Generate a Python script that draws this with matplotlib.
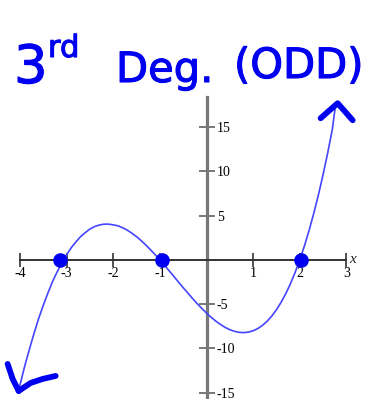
import numpy as np
import matplotlib
matplotlib.use("Agg")
import matplotlib.pyplot as plt
import matplotlib.patheffects as pe

# points along the cubic
curve_x = [-4.03, -4.0, -3.9, -3.8, -3.7, -3.6, -3.5, -3.4, -3.3, -3.2, -3.1,
           -3.0, -2.9, -2.8, -2.7, -2.6, -2.5, -2.4, -2.3, -2.2, -2.1,
           -2.0, -1.9, -1.8, -1.7, -1.6, -1.5, -1.4, -1.3, -1.2, -1.1,
           -1.0, -0.9, -0.8, -0.7, -0.6, -0.5, -0.4, -0.3, -0.2, -0.1,
           0.0, 0.1, 0.2, 0.3, 0.4, 0.5, 0.6, 0.7, 0.8, 0.9,
           1.0, 1.1, 1.2, 1.3, 1.4, 1.5, 1.6, 1.7, 1.8, 1.9,
           2.0, 2.1, 2.2, 2.3, 2.4, 2.5, 2.6, 2.7, 2.77]
curve_y = [-14.8, -14.1, -12.0, -10.1, -8.3, -6.6, -5.1, -3.7, -2.4, -1.3, -0.3,
           0.6, 1.4, 2.05, 2.65, 3.1, 3.5, 3.78, 3.95, 4.05, 4.05,
           3.97, 3.86, 3.65, 3.37, 3.02, 2.63, 2.18, 1.68, 1.15, 0.59,
           0.0, -0.61, -1.23, -1.86, -2.5, -3.13, -3.74, -4.35, -4.93, -5.48,
           -6.0, -6.48, -6.91, -7.29, -7.62, -7.88, -8.06, -8.18, -8.21, -8.15,
           -8.0, -7.75, -7.39, -6.92, -6.34, -5.63, -4.78, -3.81, -2.69, -1.42,
           0.0, 1.58, 3.33, 5.25, 7.34, 9.63, 12.1, 14.8, 17.6]

# zeros marked with dots
root_x = [-3.15, -0.95, 2.03]
root_y = [0, 0, 0]

x_ticks = [-4, -3, -2, -1, 1, 2, 3]
x_labels = ["-4", "-3", "-2", "-1", "1", "2", "3"]
y_ticks = [-15, -10, -5, 5, 10, 15]
y_labels = ["-15", "-10", "-5", "5", "10", "15"]

pen = "#0000f0"
serif = "Liberation Serif"

fig = plt.figure(figsize=(3.65, 3.99), dpi=100)
ax = fig.add_axes([0, 0, 1, 1])
ax.set_xlim(-4.43, 3.40)
ax.set_ylim(-15.71, 29.38)

# axes through the origin
for side in ["top", "left"]:
    ax.spines[side].set_visible(False)
ax.spines["bottom"].set_position(("data", 0))
ax.spines["bottom"].set_bounds(-4, 3)
ax.spines["bottom"].set_color("#333333")
ax.spines["bottom"].set_linewidth(1.4)
ax.spines["right"].set_position(("data", 0))
ax.spines["right"].set_bounds(-15.71, 18.4)
ax.spines["right"].set_color("#777777")
ax.spines["right"].set_linewidth(2.3)
ax.spines["bottom"].set_zorder(1)
ax.spines["right"].set_zorder(1)

ax.xaxis.set_ticks_position("bottom")
ax.yaxis.set_ticks_position("right")
ax.set_xticks(x_ticks)
ax.set_xticklabels(x_labels, fontfamily=serif, fontsize=10)
ax.set_yticks(y_ticks)
ax.set_yticklabels(y_labels, fontfamily=serif, fontsize=10, va="center_baseline")
ax.tick_params(axis="x", direction="inout", length=10, width=1.2, color="#333333", pad=0)
ax.tick_params(axis="y", direction="inout", length=12, width=1.4, color="#777777", pad=1.5)
ax.text(3.07, 0, "x", fontfamily=serif, fontstyle="italic", fontsize=11,
        va="center", ha="left", color="#222222")

ax.plot(curve_x, curve_y, color="#4545ff", lw=1.2, zorder=3)
ax.plot(root_x, root_y, "o", color=pen, markersize=9.5, zorder=4)


def hand_stroke(anchor, offsets):
    # pen stroke given as pixel offsets from a point on the curve
    base = ax.transData.transform(anchor)
    pts = ax.transData.inverted().transform(base + np.array(offsets, dtype=float))
    ax.plot(pts[:, 0], pts[:, 1], color=pen, lw=4.2, solid_capstyle="round",
            solid_joinstyle="round", zorder=5)


top_end = (curve_x[-1], curve_y[-1])
low_end = (curve_x[0], curve_y[0])
hand_stroke(top_end, [(-15, -14), (-6, -6), (2, 1), (10, -8), (17, -16)])
hand_stroke(low_end, [(-11, 27), (-6, 12), (0, 0)])
hand_stroke(low_end, [(0, 0), (12, 8), (24, 12), (37, 15)])

# handwritten title
ink = dict(color=pen, fontfamily="DejaVu Sans", va="baseline", ha="left",
           path_effects=[pe.withStroke(linewidth=0.8, foreground=pen)])
H = 399.0
W = 365.0
fig.text(14 / W, 1 - 83 / H, "3", fontsize=38, **ink)
fig.text(48 / W, 1 - 57 / H, "rd", fontsize=22, **ink)
fig.text(116 / W, 1 - 82 / H, "Deg.", fontsize=30, **ink)
fig.text(234 / W, 1 - 78 / H, "(ODD)", fontsize=30, **ink)

fig.savefig("out.png", dpi=100)
